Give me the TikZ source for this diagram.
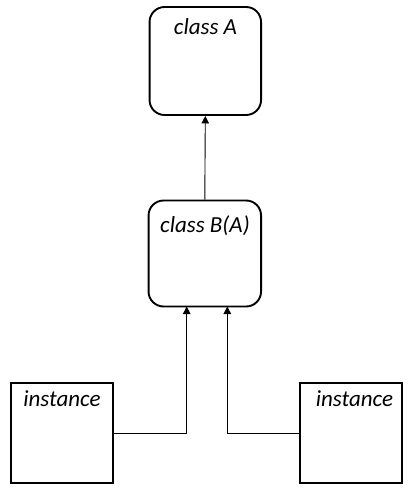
\documentclass[tikz,border=0pt]{standalone}
\usepackage{fontspec}
\setmainfont{Carlito}
\usetikzlibrary{arrows.meta}
\begin{document}
\begin{tikzpicture}[x=1pt,y=-1pt,
  box/.style={draw=black,line width=1.9pt,fill=white,inner sep=0pt},
  rbox/.style={box,rounded corners=15pt},
  lbl/.style={anchor=base,inner sep=0pt,font=\fontsize{23}{27}\selectfont\itshape},
  arr/.style={line width=0.9pt,-{Triangle[length=7.5pt,width=7.5pt]}}]
\useasboundingbox (0,0) rectangle (409,492);
\node[rbox,minimum width=111.5pt,minimum height=108pt] (A) at (205.3,61) {};
\node[rbox,minimum width=112.5pt,minimum height=106pt] (B) at (204.8,253.5) {};
\node[box,minimum width=102pt,minimum height=100pt] (L) at (62,433) {};
\node[box,minimum width=102pt,minimum height=100pt] (R) at (351,433) {};
\node[lbl] (tA) at (205.5,35) {class A};
\node[lbl] (tB) at (205,232) {class B(A)};
\node[lbl] (tL) at (62,406) {instance};
\node[lbl] (tR) at (354.5,406) {instance};
\draw[arr] (B.north) -- (A.south);
\coordinate (bl) at (186.7,306.5);
\coordinate (br) at (227.3,306.5);
\draw[arr] (L.east) -| (bl);
\draw[arr] (R.west) -| (br);
\end{tikzpicture}
\end{document}
